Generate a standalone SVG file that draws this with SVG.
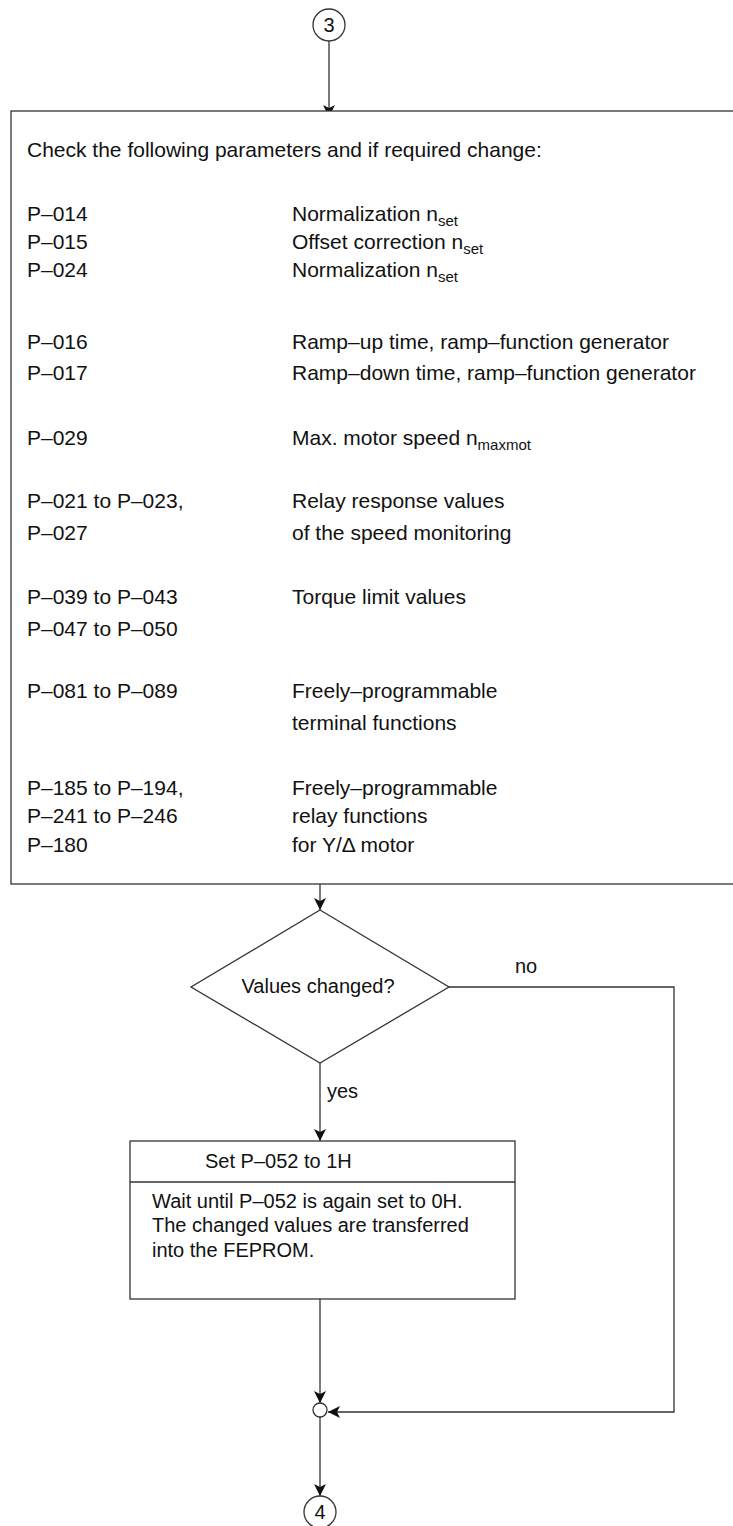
<svg xmlns="http://www.w3.org/2000/svg" width="733" height="1526" viewBox="0 0 733 1526">
<style>
text{font-family:"Liberation Sans",Arial,sans-serif;font-size:21px;fill:#111}
.sub{font-size:15px}
.s20{font-size:20px}
.ln{fill:none;stroke:#333;stroke-width:1.3}
.sh{fill:#fff;stroke:#333;stroke-width:1.3}
</style>
<defs>
<marker id="ah" markerUnits="userSpaceOnUse" markerWidth="12" markerHeight="16" viewBox="0 0 12 16" refX="12" refY="6" orient="auto">
<path d="M0,0 L12,6 L0,12 L3,6 Z" fill="#111"/>
</marker>
</defs>
<g id="connectors">
<line class="ln" x1="329" y1="41" x2="329" y2="117" marker-end="url(#ah)"/>
<line class="ln" x1="320" y1="884" x2="320" y2="910" marker-end="url(#ah)"/>
<line class="ln" x1="320" y1="1063" x2="320" y2="1141" marker-end="url(#ah)"/>
<polyline class="ln" points="449,987 674,987 674,1412 328,1412" marker-end="url(#ah)"/>
<line class="ln" x1="320" y1="1299" x2="320" y2="1403" marker-end="url(#ah)"/>
<line class="ln" x1="320" y1="1417" x2="320" y2="1496" marker-end="url(#ah)"/>
<text x="327" y="1098" class="s20">yes</text>
<text x="515" y="973" class="s20">no</text>
</g>
<g id="start">
<circle class="sh" cx="329" cy="25" r="16"/>
<text x="329" y="32" text-anchor="middle" class="s20">3</text>
</g>
<g id="check-box">
<rect class="sh" x="11" y="111" width="740" height="773"/>
<text x="27" y="157">Check the following parameters and if required change:</text>
<text x="27" y="221">P–014</text><text x="292" y="221">Normalization n<tspan class="sub" dy="5">set</tspan></text>
<text x="27" y="249">P–015</text><text x="292" y="249">Offset correction n<tspan class="sub" dy="5">set</tspan></text>
<text x="27" y="277">P–024</text><text x="292" y="277">Normalization n<tspan class="sub" dy="5">set</tspan></text>
<text x="27" y="349">P–016</text><text x="292" y="349">Ramp–up time, ramp–function generator</text>
<text x="27" y="380">P–017</text><text x="292" y="380">Ramp–down time, ramp–function generator</text>
<text x="27" y="445">P–029</text><text x="292" y="445">Max. motor speed n<tspan class="sub" dy="5">maxmot</tspan></text>
<text x="27" y="508">P–021 to P–023,</text><text x="292" y="508">Relay response values</text>
<text x="27" y="540">P–027</text><text x="292" y="540">of the speed monitoring</text>
<text x="27" y="604">P–039 to P–043</text><text x="292" y="604">Torque limit values</text>
<text x="27" y="636">P–047 to P–050</text>
<text x="27" y="698">P–081 to P–089</text><text x="292" y="698">Freely–programmable</text>
<text x="292" y="730">terminal functions</text>
<text x="27" y="795">P–185 to P–194,</text><text x="292" y="795">Freely–programmable</text>
<text x="27" y="823">P–241 to P–246</text><text x="292" y="823">relay functions</text>
<text x="27" y="852">P–180</text><text x="292" y="852">for Y/Δ motor</text>
</g>
<g id="decision">
<polygon class="sh" points="320,910 449,987 320,1063 191,987"/>
<text x="318" y="993" text-anchor="middle" class="s20">Values changed?</text>
</g>
<g id="save-box">
<rect class="sh" x="130" y="1141" width="385" height="158"/>
<line class="ln" x1="130" y1="1182" x2="515" y2="1182"/>
<text x="205" y="1168" class="s20">Set P–052 to 1H</text>
<text x="152" y="1208" class="s20">Wait until P–052 is again set to 0H.</text>
<text x="152" y="1232" class="s20">The changed values are transferred</text>
<text x="152" y="1257" class="s20">into the FEPROM.</text>
</g>
<g id="merge">
<circle class="sh" cx="320" cy="1410" r="7"/>
</g>
<g id="end">
<circle class="sh" cx="320" cy="1512" r="16"/>
<text x="320" y="1519" text-anchor="middle" class="s20">4</text>
</g>
</svg>
